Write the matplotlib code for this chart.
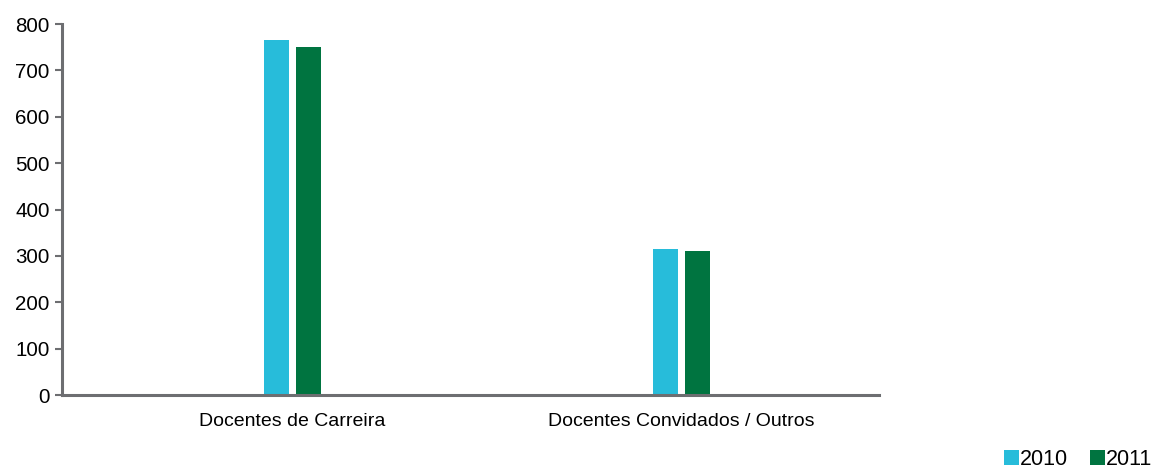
import matplotlib
matplotlib.use("Agg")
import matplotlib.pyplot as plt
import numpy as np

categories = ["Docentes de Carreira", "Docentes Convidados / Outros"]
series_names = ["2010", "2011"]
values_2010 = [765, 315]
values_2011 = [750, 310]
yticks = [0, 100, 200, 300, 400, 500, 600, 700, 800]

colors = ["#27bcda", "#007440"]
axis_color = "#6d6e71"

plt.rcParams['font.family'] = ['Liberation Sans', 'DejaVu Sans']

fig = plt.figure(figsize=(11.62, 4.69), dpi=100)
ax = fig.add_axes([62/1162, 1-395/469, (879-62)/1162, (395-24)/469])

x = np.arange(len(categories))
w = 0.0643
off = 0.0411
b1 = ax.bar(x - off, values_2010, width=w, color=colors[0], label=series_names[0])
b2 = ax.bar(x + off, values_2011, width=w, color=colors[1], label=series_names[1])

ax.set_xlim(-0.5925, 1.508)
ax.set_ylim(0, 800)
ax.set_yticks(yticks)
ax.set_yticklabels([str(t) for t in yticks], fontsize=14.8)
ax.set_xticks(x)
ax.set_xticklabels(categories, fontsize=14)
ax.tick_params(axis='x', length=0, pad=13)
ax.tick_params(axis='y', length=5, width=1.5, color=axis_color, pad=4)

for s in ['top', 'right']:
    ax.spines[s].set_visible(False)
for s in ['left', 'bottom']:
    ax.spines[s].set_color(axis_color)
    ax.spines[s].set_linewidth(2.2)

leg = fig.legend(handles=[b1, b2], labels=series_names, loc='lower right',
                 bbox_to_anchor=(1.003, -0.03), ncol=2, frameon=False,
                 fontsize=15.5, handlelength=0.72, handleheight=0.72,
                 handletextpad=0.05, columnspacing=1.0, borderaxespad=0.2)

fig.savefig("out.png", dpi=100)
